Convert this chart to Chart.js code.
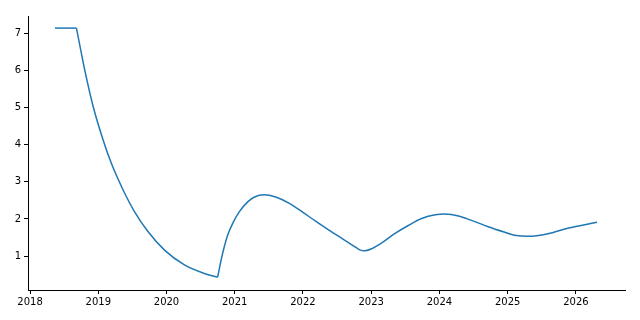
<!DOCTYPE html>
<html><head><meta charset="utf-8">
<script src="https://cdn.jsdelivr.net/npm/chart.js@4"></script>
<style>html,body{margin:0;padding:0;background:#fff}#wrap{width:640px;height:320px}</style>
</head><body><div id="wrap"><canvas id="c" width="640" height="320"></canvas></div>
<script>
// Flat segment
const flatYears = [2018.365, 2018.68];
const flatValues = [7.14, 7.14];
// Decay segment
const decayYears = [2018.68, 2018.803, 2018.926, 2019.072, 2019.193, 2019.364, 2019.533, 2019.728, 2019.971, 2020.263, 2020.555, 2020.75];
const decayValues = [7.14, 6.00, 5.02, 4.12, 3.49, 2.78, 2.19, 1.66, 1.16, 0.76, 0.53, 0.43];
// Oscillating segment
const waveYears = [2020.75, 2020.80, 2020.847, 2020.896, 2020.97, 2021.066, 2021.19, 2021.29, 2021.43, 2021.60, 2021.80, 2021.99, 2022.185, 2022.38, 2022.575, 2022.745, 2022.84, 2022.90, 2023.01, 2023.16, 2023.35, 2023.55, 2023.74, 2023.94, 2024.08, 2024.28, 2024.47, 2024.715, 2024.96, 2025.10, 2025.30, 2025.59, 2025.88, 2026.31];
const waveValues = [0.43, 0.89, 1.25, 1.56, 1.88, 2.19, 2.46, 2.59, 2.65, 2.59, 2.42, 2.19, 1.94, 1.70, 1.47, 1.27, 1.16, 1.14, 1.20, 1.36, 1.61, 1.83, 2.01, 2.11, 2.13, 2.08, 1.96, 1.79, 1.64, 1.56, 1.53, 1.60, 1.75, 1.91];
const xTickLabels = [2018, 2019, 2020, 2021, 2022, 2023, 2024, 2025, 2026];
const yTickLabels = [1, 2, 3, 4, 5, 6, 7];

const pts = (xs, ys) => xs.map((x, i) => ({x: x, y: ys[i]}));
const lineStyle = {borderColor: '#1f77b4', borderWidth: 1.5, pointRadius: 0, fill: false, cubicInterpolationMode: 'monotone'};

new Chart(document.getElementById('c'), {
  type: 'line',
  data: {
    datasets: [
      Object.assign({data: pts(flatYears, flatValues)}, lineStyle),
      Object.assign({data: pts(decayYears, decayValues)}, lineStyle),
      Object.assign({data: pts(waveYears, waveValues)}, lineStyle)
    ]
  },
  options: {
    responsive: false,
    animation: false,
    layout: {padding: {left: 0, right: 15, top: 16, bottom: 0}},
    plugins: {legend: {display: false}, tooltip: {enabled: false}},
    scales: {
      x: {
        type: 'linear', min: 2017.97, max: 2026.72,
        afterBuildTicks: s => { s.ticks = xTickLabels.map(v => ({value: v})); },
        afterFit: s => { s.height = 30; },
        grid: {display: true, drawOnChartArea: false, drawTicks: true, tickLength: 4, color: '#000'},
        border: {display: true, color: '#000', width: 1},
        ticks: {color: '#000', font: {family: 'DejaVu Sans', size: 10}, padding: 2, maxRotation: 0, callback: v => String(v)}
      },
      y: {
        type: 'linear', min: 0.085, max: 7.466,
        afterBuildTicks: s => { s.ticks = yTickLabels.map(v => ({value: v})); },
        afterFit: s => { s.width = 28; },
        grid: {display: true, drawOnChartArea: false, drawTicks: true, tickLength: 4, color: '#000'},
        border: {display: true, color: '#000', width: 1},
        ticks: {color: '#000', font: {family: 'DejaVu Sans', size: 10}, padding: 3, callback: v => String(v)}
      }
    }
  }
});
</script>
</body></html>
